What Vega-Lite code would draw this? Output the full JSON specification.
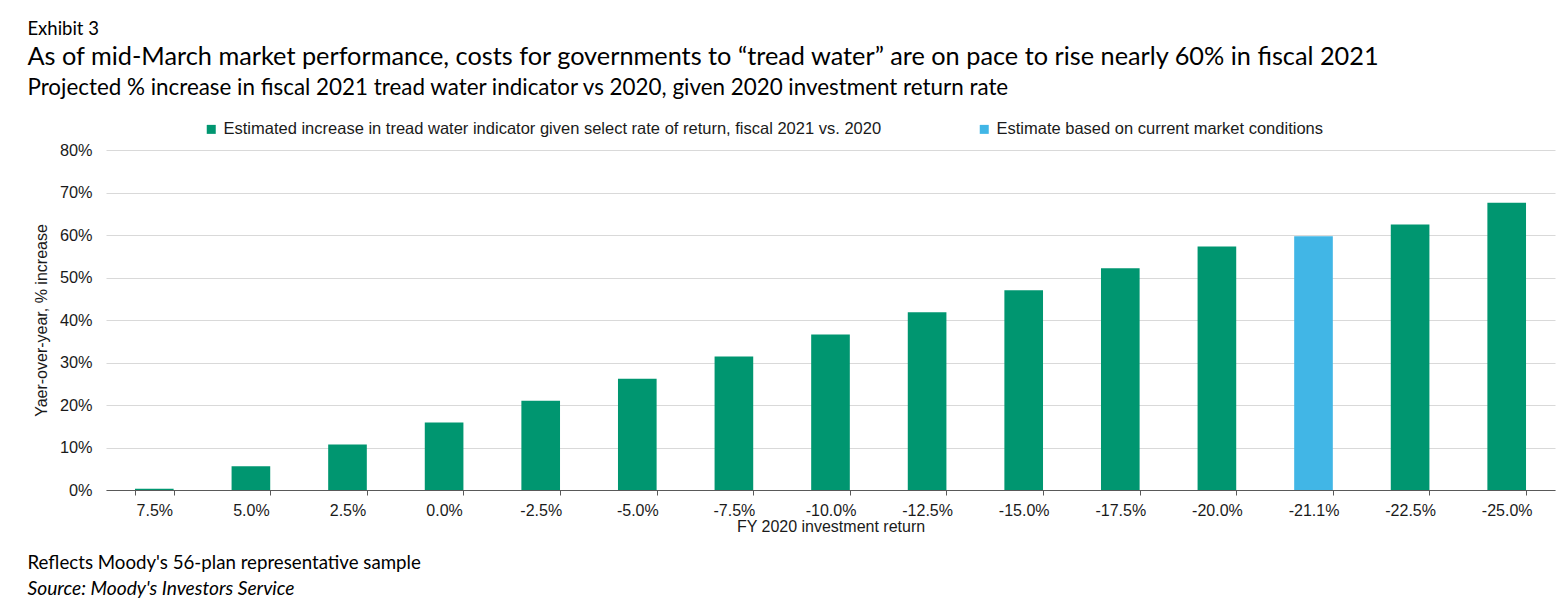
{
  "$schema": "https://vega.github.io/schema/vega-lite/v6.json",
  "background": "white",
  "padding": {"left": 27, "top": 19, "right": 8, "bottom": 4},
  "config": {
    "view": {"stroke": null},
    "font": "Liberation Sans"
  },
  "title": {
    "text": "Exhibit 3",
    "subtitle": "As of mid-March market performance, costs for governments to “tread water” are on pace to rise nearly 60% in fiscal 2021",
    "anchor": "start",
    "frame": "bounds",
    "font": "Lato",
    "fontSize": 18.5,
    "fontWeight": "normal",
    "color": "#000000",
    "subtitleFont": "Lato",
    "subtitleFontSize": 25.3,
    "subtitleFontWeight": "normal",
    "subtitleColor": "#000000",
    "subtitlePadding": 7,
    "offset": 6
  },
  "spacing": 19,
  "vconcat": [
    {
      "width": 1449,
      "height": 340,
      "title": {
        "text": "Projected % increase in fiscal 2021 tread water indicator vs 2020, given 2020 investment return rate",
        "anchor": "start",
        "frame": "bounds",
        "dx": -6,
        "font": "Lato",
        "fontSize": 22.4,
        "fontWeight": "normal",
        "color": "#000000",
        "offset": 43
      },
      "data": {
        "values": [
          {"ret": "7.5%", "value": 0.003, "series": "Estimated increase in tread water indicator given select rate of return, fiscal 2021 vs. 2020"},
          {"ret": "5.0%", "value": 0.056, "series": "Estimated increase in tread water indicator given select rate of return, fiscal 2021 vs. 2020"},
          {"ret": "2.5%", "value": 0.107, "series": "Estimated increase in tread water indicator given select rate of return, fiscal 2021 vs. 2020"},
          {"ret": "0.0%", "value": 0.159, "series": "Estimated increase in tread water indicator given select rate of return, fiscal 2021 vs. 2020"},
          {"ret": "-2.5%", "value": 0.210, "series": "Estimated increase in tread water indicator given select rate of return, fiscal 2021 vs. 2020"},
          {"ret": "-5.0%", "value": 0.262, "series": "Estimated increase in tread water indicator given select rate of return, fiscal 2021 vs. 2020"},
          {"ret": "-7.5%", "value": 0.314, "series": "Estimated increase in tread water indicator given select rate of return, fiscal 2021 vs. 2020"},
          {"ret": "-10.0%", "value": 0.366, "series": "Estimated increase in tread water indicator given select rate of return, fiscal 2021 vs. 2020"},
          {"ret": "-12.5%", "value": 0.418, "series": "Estimated increase in tread water indicator given select rate of return, fiscal 2021 vs. 2020"},
          {"ret": "-15.0%", "value": 0.470, "series": "Estimated increase in tread water indicator given select rate of return, fiscal 2021 vs. 2020"},
          {"ret": "-17.5%", "value": 0.522, "series": "Estimated increase in tread water indicator given select rate of return, fiscal 2021 vs. 2020"},
          {"ret": "-20.0%", "value": 0.573, "series": "Estimated increase in tread water indicator given select rate of return, fiscal 2021 vs. 2020"},
          {"ret": "-21.1%", "value": 0.597, "series": "Estimate based on current market conditions"},
          {"ret": "-22.5%", "value": 0.625, "series": "Estimated increase in tread water indicator given select rate of return, fiscal 2021 vs. 2020"},
          {"ret": "-25.0%", "value": 0.676, "series": "Estimated increase in tread water indicator given select rate of return, fiscal 2021 vs. 2020"}
        ]
      },
      "mark": {"type": "bar"},
      "encoding": {
        "x": {
          "field": "ret",
          "type": "nominal",
          "sort": null,
          "scale": {"paddingInner": 0.6, "paddingOuter": 0.3},
          "axis": {
            "title": "FY 2020 investment return",
            "titleFont": "Liberation Sans",
            "titleFontSize": 16,
            "titleFontWeight": "normal",
            "titleColor": "#1a1a1a",
            "titlePadding": 0,
            "labelAngle": 0,
            "labelFont": "Liberation Sans",
            "labelFontSize": 16,
            "labelColor": "#1a1a1a",
            "labelPadding": 7,
            "tickBand": "extent",
            "ticks": true,
            "tickSize": 5,
            "tickColor": "#595959",
            "domainColor": "#595959",
            "domainWidth": 1.2,
            "grid": false
          }
        },
        "y": {
          "field": "value",
          "type": "quantitative",
          "scale": {"domain": [0, 0.8]},
          "axis": {
            "title": "Yaer-over-year, % increase",
            "titleFont": "Liberation Sans",
            "titleFontSize": 16,
            "titleFontWeight": "normal",
            "titleColor": "#1a1a1a",
            "titlePadding": 10,
            "values": [0, 0.1, 0.2, 0.3, 0.4, 0.5, 0.6, 0.7, 0.8],
            "format": ".0%",
            "labelFont": "Liberation Sans",
            "labelFontSize": 16.3,
            "labelColor": "#1a1a1a",
            "labelPadding": 14,
            "ticks": false,
            "domain": false,
            "grid": true,
            "gridColor": "#d9d9d9",
            "gridWidth": 1
          }
        },
        "color": {
          "field": "series",
          "type": "nominal",
          "scale": {
            "domain": [
              "Estimated increase in tread water indicator given select rate of return, fiscal 2021 vs. 2020",
              "Estimate based on current market conditions"
            ],
            "range": ["#009670", "#41B6E6"]
          },
          "legend": {
            "title": null,
            "orient": "none",
            "legendX": 97,
            "legendY": -29,
            "direction": "horizontal",
            "symbolType": "square",
            "symbolSize": 81,
            "symbolStrokeWidth": 0,
            "labelFont": "Liberation Sans",
            "labelFontSize": 16.5,
            "labelColor": "#1a1a1a",
            "labelLimit": 1000,
            "labelOffset": 4,
            "columnPadding": 94
          }
        }
      }
    },
    {
      "width": 1449,
      "height": 1,
      "data": {"values": [{}]},
      "mark": {"type": "rule", "opacity": 0},
      "encoding": {},
      "title": {
        "text": "Reflects Moody's 56-plan representative sample",
        "subtitle": "Source: Moody's Investors Service",
        "anchor": "start",
        "frame": "bounds",
        "dx": -78,
        "font": "Lato",
        "fontSize": 18.7,
        "fontWeight": "normal",
        "color": "#000000",
        "subtitleFont": "Lato",
        "subtitleFontSize": 19.2,
        "subtitleFontStyle": "italic",
        "subtitleColor": "#000000",
        "subtitlePadding": 8,
        "offset": 0
      }
    }
  ]
}
